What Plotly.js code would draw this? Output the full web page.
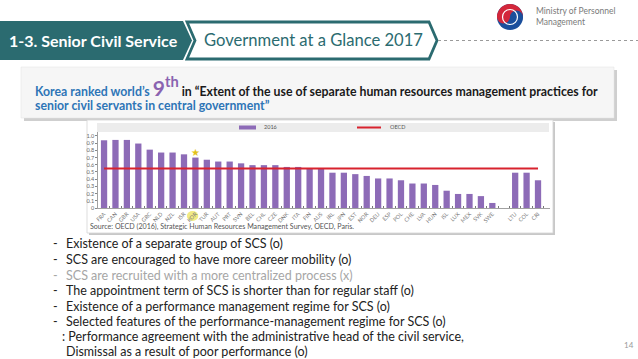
<!DOCTYPE html>
<html>
<head>
<meta charset="utf-8">
<script src="https://cdn.plot.ly/plotly-3.0.1.min.js"></script>
<style>
html,body{margin:0;padding:0;background:#fff;}
#chart{width:638px;height:359px;}
</style>
</head>
<body>
<div id="chart"></div>
<script>
// ---------- data ----------
const countries = ["FRA","CAN","GBR","USA","GRC","NLD","NZL","ISR","KOR","TUR","AUT","PRT","SVN","BEL","CHL","CZE","DNK","ITA","FIN","AUS","IRL","JPN","EST","NOR","DEU","ESP","POL","CHE","LVA","HUN","ISL","LUX","MEX","SVK","SWE","\u00a0","LTU","COL","CRI"];
const values2016 = [0.94,0.945,0.945,0.895,0.81,0.77,0.77,0.745,0.70,0.67,0.645,0.645,0.62,0.595,0.595,0.595,0.57,0.57,0.545,0.545,0.49,0.49,0.47,0.445,0.41,0.41,0.385,0.34,0.34,0.32,0.24,0.195,0.195,0.165,0.07,null,0.49,0.49,0.385];
const oecdAverage = 0.55;
const yTickVals = [0,0.1,0.2,0.3,0.4,0.5,0.6,0.7,0.8,0.9,1.0];
const yTickText = ["0","0.1","0.2","0.3","0.4","0.5","0.6","0.7","0.8","0.9","1.0"];
const highlightCountry = "KOR";
const bullets = [
  {t:"Existence of a separate group of SCS (o)", c:"#222"},
  {t:"SCS are encouraged to have more career mobility (o)", c:"#222"},
  {t:"SCS are recruited with a more centralized process (x)", c:"#a6a6a6"},
  {t:"The appointment term of SCS is shorter than for regular staff (o)", c:"#222"},
  {t:"Existence of a performance management regime for SCS (o)", c:"#222"},
  {t:"Selected features of the performance-management regime for SCS (o)", c:"#222"}
];
const subLines = [": Performance agreement with the administrative head of the civil service,", "Dismissal as a result of poor performance (o)"];

// ---------- helpers (page pixel -> paper) ----------
const W = 638, H = 359;
const px = x => x / W;
const py = y => 1 - y / H;
const TEAL = "#2b6b70";
const FONT = "Lato, 'Open Sans', sans-serif";

const kIdx = countries.indexOf(highlightCountry);

const traces = [
  {type:"bar", x:countries, y:values2016, name:"2016",
   marker:{color:"#8d6bb7"}, hoverinfo:"skip"},
  {type:"scatter", mode:"lines", x:[countries[0], countries[countries.length-1]],
   y:[oecdAverage, oecdAverage], name:"OECD",
   line:{color:"#d8232e", width:2}, hoverinfo:"skip"}
];

const shapes = [
  // header teal block
  {type:"path", xref:"paper", yref:"paper", layer:"below",
   path:`M 0 ${py(21)} L ${px(183)} ${py(21)} L ${px(192)} ${py(40.5)} L ${px(183)} ${py(60)} L 0 ${py(60)} Z`,
   fillcolor:TEAL, line:{width:0}},
  // header white arrow box
  {type:"path", xref:"paper", yref:"paper", layer:"below",
   path:`M ${px(187)} ${py(22)} L ${px(429)} ${py(22)} L ${px(437)} ${py(40.5)} L ${px(429)} ${py(59)} L ${px(187)} ${py(59)} L ${px(195)} ${py(40.5)} Z`,
   fillcolor:"#ffffff", line:{color:TEAL, width:2.8}},
  // dotted line
  {type:"line", xref:"paper", yref:"paper", layer:"below",
   x0:px(438), x1:px(638), y0:py(40.5), y1:py(40.5), line:{color:"#9a9a9a", width:1, dash:"dot"}},
  // subtitle box shadow + box
  {type:"rect", xref:"paper", yref:"paper", layer:"below",
   x0:px(24), x1:px(617), y0:py(121), y1:py(70), fillcolor:"#cfcfcf", line:{width:0}},
  {type:"rect", xref:"paper", yref:"paper", layer:"below",
   x0:px(21), x1:px(614), y0:py(118), y1:py(67), fillcolor:"#f6f6f6", line:{color:"#e2e2e2", width:0.5}},
  // chart box shadow + box
  {type:"rect", xref:"paper", yref:"paper", layer:"below",
   x0:px(89), x1:px(555), y0:py(235), y1:py(122), fillcolor:"#c8c8c8", line:{width:0}},
  {type:"rect", xref:"paper", yref:"paper", layer:"below",
   x0:px(87), x1:px(553), y0:py(233), y1:py(120), fillcolor:"#ffffff", line:{color:"#d4d4d4", width:0.8}},
  // legend band
  {type:"rect", xref:"paper", yref:"paper", layer:"below",
   x0:px(97), x1:px(549), y0:py(132), y1:py(123), fillcolor:"#ececec", line:{width:0}},
  {type:"rect", xref:"paper", yref:"paper", layer:"above",
   x0:px(239), x1:px(256), y0:py(129.5), y1:py(125.5), fillcolor:"#8d6bb7", line:{width:0}},
  {type:"line", xref:"paper", yref:"paper", layer:"above",
   x0:px(357), x1:px(381), y0:py(127.5), y1:py(127.5), line:{color:"#d8232e", width:2}},
  // KOR label highlight
  {type:"circle", xref:"x", yref:"paper", layer:"below",
   x0:kIdx-0.75, x1:kIdx+0.25, y0:py(221), y1:py(211),
   fillcolor:"rgba(238,228,90,0.75)", line:{width:0}},
  // logo
  {type:"circle", xref:"paper", yref:"paper", xsizemode:"pixel", ysizemode:"pixel",
   xanchor:px(510), yanchor:py(17), x0:-13, x1:13, y0:-13, y1:13, fillcolor:"#1b4f9c", line:{width:0}},
  {type:"path", xref:"paper", yref:"paper", xsizemode:"pixel", ysizemode:"pixel",
   xanchor:px(510), yanchor:py(17),
   path:"M -13 0 C -13 7.2 -7.2 13 0 13 C 7.2 13 13 7.2 13 0 Z", fillcolor:"#d3273a", line:{width:0}},
  {type:"circle", xref:"paper", yref:"paper", xsizemode:"pixel", ysizemode:"pixel",
   xanchor:px(510), yanchor:py(17), x0:-13, x1:0, y0:-6.5, y1:6.5, fillcolor:"#d3273a", line:{width:0}},
  {type:"circle", xref:"paper", yref:"paper", xsizemode:"pixel", ysizemode:"pixel",
   xanchor:px(510), yanchor:py(17), x0:0, x1:13, y0:-6.5, y1:6.5, fillcolor:"#1b4f9c", line:{width:0}},
  {type:"circle", xref:"paper", yref:"paper", xsizemode:"pixel", ysizemode:"pixel",
   xanchor:px(510), yanchor:py(17), x0:-7.5, x1:7.5, y0:-7.5, y1:7.5, fillcolor:"rgba(0,0,0,0)", line:{color:"#ffffff", width:1.2}}
];

function ann(x, y, text, opts) {
  return Object.assign({xref:"paper", yref:"paper", x:px(x), y:py(y), text:text,
    showarrow:false, xanchor:"left", yanchor:"middle",
    font:{family:FONT, size:11, color:"#222"}}, opts || {});
}

const annotations = [
  ann(7, 40.5, "<b>1-3. Senior Civil Service</b>", {font:{family:FONT, size:16, color:"#ffffff"}}),
  ann(202, 40.5, "Government at a Glance 2017", {font:{family:FONT, size:16.6, color:TEAL}}),
  ann(534, 11, "Ministry of Personnel", {font:{family:FONT, size:8.5, color:"#7a7a7a"}}),
  ann(534, 22.5, "Management", {font:{family:FONT, size:8.5, color:"#7a7a7a"}}),
  ann(33, 86, '<b><span style="color:#2e75b6">Korea ranked world\u2019s </span><span style="color:#8a63b0;font-size:21px">9<sup>th</sup></span> in \u201cExtent of the use of separate human resources management practices for</b>',
      {font:{family:FONT, size:12.3, color:"#1a1a1a"}}),
  ann(33, 105, '<b>senior civil servants in central government\u201d</b>', {font:{family:FONT, size:12.3, color:"#2e75b6"}}),
  // legend text
  ann(262, 127.5, "2016", {font:{family:FONT, size:5.5, color:"#555"}}),
  ann(388, 127.5, "OECD", {font:{family:FONT, size:5.5, color:"#555"}}),
  // source
  ann(88, 226.5, "Source: OECD (2016), Strategic Human Resources Management Survey, OECD, Paris.", {font:{family:FONT, size:7.1, color:"#555"}}),
  // star over KOR
  {xref:"x", yref:"y", x:highlightCountry, y:values2016[kIdx] + 0.075, text:"\u2605", showarrow:false,
   font:{family:"DejaVu Sans", size:10, color:"#e3c21a"}},
  // page number
  ann(622, 345, "14", {font:{family:FONT, size:8, color:"#9a9a9a"}})
];

const lineY = [244, 259.5, 275, 290.5, 306, 321, 336.5, 351.5];
const BF = 12.5;
bullets.forEach((b, i) => {
  annotations.push(ann(51, lineY[i], "-", {font:{family:FONT, size:BF, color:b.c}}));
  annotations.push(ann(64, lineY[i], b.t, {font:{family:FONT, size:BF, color:b.c}}));
});
annotations.push(ann(60, lineY[6], subLines[0], {font:{family:FONT, size:BF, color:"#222"}}));
annotations.push(ann(64, lineY[7], subLines[1], {font:{family:FONT, size:BF, color:"#222"}}));

const layout = {
  width:W, height:H, autosize:false,
  margin:{l:0, r:0, t:0, b:0, pad:0},
  paper_bgcolor:"#ffffff", plot_bgcolor:"#f1f0f6",
  showlegend:false, bargap:0.45,
  font:{family:FONT},
  xaxis:{domain:[px(98), px(550)], range:[-0.53, 39.05], type:"category",
    tickangle:-45, tickfont:{family:FONT, size:5.5, color:"#7a7a7a"},
    showline:true, linecolor:"#8a8a8a", linewidth:0.8,
    ticks:"inside", ticklen:2, tickcolor:"#777", tickson:"boundaries",
    showgrid:true, gridcolor:"#ffffff", gridwidth:1, fixedrange:true},
  yaxis:{domain:[py(208), py(132)], range:[0, 1.055],
    tickvals:yTickVals, ticktext:yTickText,
    tickfont:{family:FONT, size:5.5, color:"#666"},
    showline:true, linecolor:"#8a8a8a", linewidth:0.8,
    ticks:"outside", ticklen:2, tickcolor:"#888",
    showgrid:true, gridcolor:"#ffffff", gridwidth:0.6, zeroline:false, fixedrange:true},
  shapes:shapes,
  annotations:annotations
};

Plotly.newPlot("chart", traces, layout, {staticPlot:true, displayModeBar:false});
</script>
</body>
</html>
